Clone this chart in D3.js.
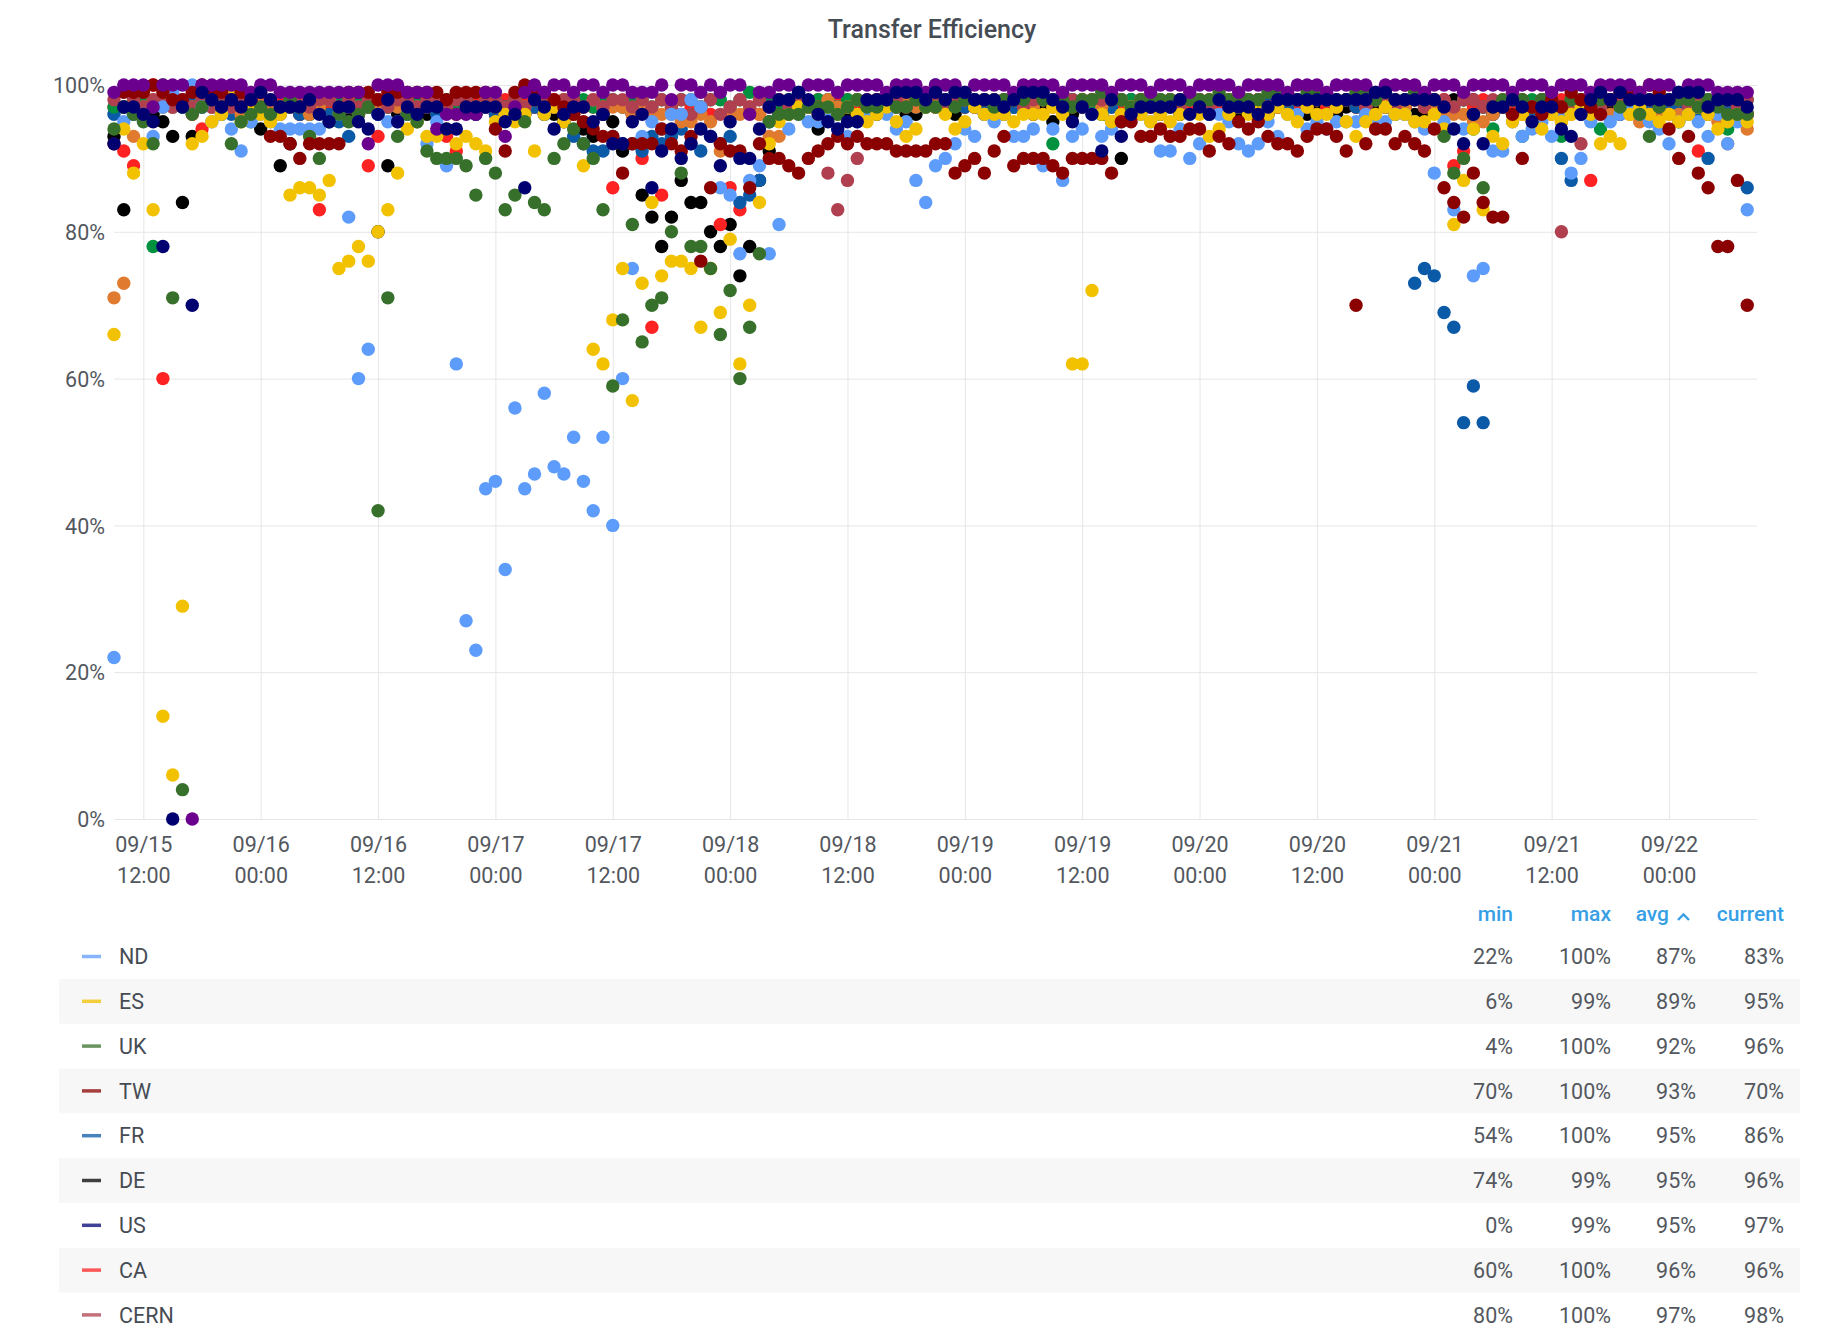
<!DOCTYPE html>
<html lang="en">
<head>
    <meta charset="UTF-8">
    <title>Transfer Efficiency</title>
    <script src="https://d3js.org/d3.v7.min.js"></script>
    <style>
        body {
            margin: 0;
            background: #fff;
            overflow: hidden;
            font-family: Roboto, "Noto Sans", sans-serif;
        }
        svg { display: block; }
    </style>
</head>
<body>

<div id="chart"></div>

<script>
    // hourly samples, first one at 09/15 09:00, 168 per series
    const startTime = new Date(2023, 8, 15, 9, 0);
    const endTime = d3.timeHour.offset(startTime, 168);

    const ND = [
        22, 95, 96, 96, 93, 97, 99, 98, 100, 97, 95, 96,
        94, 91, 95, 96, 95, 94, 94, 94, 94, 94, 95, 96,
        82, 60, 64, 96, 95, 95, 96, 95, 92, 95, 89, 62,
        27, 23, 45, 46, 34, 56, 45, 47, 58, 48, 47, 52,
        46, 42, 52, 40, 60, 75, 93, 95, 94, 96, 96, 98,
        97, 93, 86, 85, 77, 87, 89, 77, 81, 94, 96, 95,
        95, 96, 94, 93, 95, 96, 97, 96, 94, 95, 87, 84,
        89, 90, 92, 94, 93, 96, 95, 96, 93, 93, 94, 89,
        94, 87, 93, 94, 96, 93, 94, 95, 96, 96, 95, 91,
        91, 94, 90, 92, 96, 96, 95, 92, 91, 92, 95, 93,
        96, 96, 94, 95, 94, 95, 95, 95, 96, 95, 95, 96,
        96, 95, 94, 88, 95, 83, 94, 74, 75, 91, 91, 95,
        93, 94, 95, 93, 96, 88, 90, 95, 96, 95, 96, 97,
        96, 95, 94, 92, 95, 96, 95, 93, 96, 92, 95, 83
    ];
    const ES = [
        66, 94, 88, 92, 83, 14, 6, 29, 92, 93, 95, 96,
        99, 95, 97, 96, 95, 96, 85, 86, 86, 85, 87, 75,
        76, 78, 76, 80, 83, 88, 94, 95, 93, 93, 94, 92,
        93, 92, 91, 95, 96, 95, 96, 91, 96, 97, 95, 96,
        89, 64, 62, 68, 75, 57, 73, 84, 74, 76, 76, 75,
        67, 75, 69, 79, 62, 70, 84, 92, 95, 96, 97, 97,
        96, 97, 96, 97, 96, 95, 96, 97, 95, 93, 94, 97,
        97, 96, 94, 95, 97, 96, 96, 96, 95, 96, 96, 96,
        97, 96, 62, 62, 72, 96, 95, 96, 97, 96, 95, 96,
        95, 96, 94, 96, 93, 94, 96, 97, 96, 97, 96, 97,
        96, 95, 97, 96, 96, 97, 95, 93, 95, 96, 97, 96,
        96, 95, 95, 96, 94, 81, 87, 94, 83, 93, 92, 95,
        96, 95, 94, 96, 95, 96, 97, 96, 92, 93, 92, 96,
        97, 96, 95, 96, 95, 96, 97, 96, 94, 95, 96, 95
    ];
    const UK = [
        94, 97, 96, 95, 92, 100, 71, 4, 96, 97, 98, 97,
        92, 95, 96, 97, 96, 97, 98, 97, 93, 90, 95, 96,
        95, 96, 97, 42, 71, 93, 96, 95, 91, 90, 90, 90,
        89, 85, 90, 88, 83, 85, 95, 84, 83, 90, 92, 94,
        92, 90, 83, 59, 68, 81, 65, 70, 71, 80, 88, 78,
        78, 75, 66, 72, 60, 67, 77, 95, 96, 96, 96, 97,
        97, 97, 96, 97, 98, 97, 97, 98, 97, 97, 98, 97,
        97, 98, 97, 98, 98, 98, 97, 98, 98, 98, 99, 98,
        98, 98, 97, 98, 98, 99, 98, 98, 97, 98, 98, 98,
        98, 98, 98, 98, 98, 99, 98, 98, 98, 98, 99, 99,
        98, 98, 99, 99, 98, 98, 98, 99, 99, 98, 99, 98,
        98, 99, 98, 98, 93, 88, 90, 96, 86, 97, 98, 98,
        98, 97, 98, 98, 97, 98, 98, 97, 98, 98, 97, 98,
        96, 93, 97, 98, 98, 98, 97, 98, 97, 96, 96, 96
    ];
    const TW = [
        92, 99, 99, 99, 100, 99, 98, 98, 99, 100, 99, 99,
        98, 99, 98, 99, 93, 93, 92, 90, 92, 92, 92, 92,
        99, 99, 99, 98, 99, 99, 99, 99, 99, 99, 98, 99,
        99, 99, 99, 94, 91, 99, 100, 99, 99, 98, 97, 96,
        95, 94, 93, 93, 88, 92, 92, 92, 94, 92, 91, 93,
        76, 86, 92, 91, 91, 86, 92, 90, 90, 89, 88, 90,
        91, 92, 93, 92, 93, 92, 92, 92, 91, 91, 91, 91,
        92, 92, 88, 89, 90, 88, 91, 93, 89, 90, 90, 90,
        89, 88, 90, 90, 90, 90, 88, 95, 95, 93, 93, 94,
        93, 93, 94, 94, 91, 93, 92, 95, 94, 95, 93, 92,
        92, 91, 93, 94, 94, 93, 91, 70, 92, 94, 94, 92,
        93, 92, 91, 94, 86, 84, 82, 88, 84, 82, 82, 96,
        90, 97, 96, 98, 97, 99, 98, 97, 96, 98, 99, 99,
        99, 100, 99, 94, 90, 93, 88, 86, 78, 78, 87, 70
    ];
    const FR = [
        96, 97, 97, 96, 97, 98, 97, 97, 98, 97, 97, 96,
        96, 97, 96, 97, 97, 96, 97, 96, 96, 97, 96, 95,
        93, 96, 97, 96, 97, 97, 96, 97, 97, 96, 97, 97,
        97, 96, 97, 96, 97, 97, 96, 97, 96, 97, 96, 93,
        92, 91, 91, 93, 92, 92, 91, 93, 92, 93, 94, 92,
        91, 93, 92, 93, 84, 85, 87, 95, 96, 97, 97, 97,
        97, 98, 97, 97, 98, 97, 98, 97, 97, 98, 97, 98,
        100, 98, 98, 97, 98, 97, 98, 98, 97, 98, 97, 98,
        98, 97, 98, 97, 98, 98, 97, 98, 98, 97, 98, 97,
        98, 97, 98, 98, 97, 98, 97, 98, 98, 97, 98, 98,
        97, 98, 97, 98, 98, 97, 98, 97, 97, 98, 97, 97,
        96, 73, 75, 74, 69, 67, 54, 59, 54, 96, 97, 96,
        97, 96, 97, 97, 90, 87, 96, 97, 97, 98, 97, 97,
        97, 97, 96, 97, 97, 97, 96, 90, 96, 97, 96, 86
    ];
    const DE = [
        93, 83, 96, 97, 96, 95, 93, 84, 93, 97, 98, 97,
        97, 96, 97, 94, 96, 89, 92, 96, 97, 97, 97, 96,
        96, 96, 97, 80, 89, 96, 97, 97, 96, 97, 97, 97,
        97, 96, 97, 97, 96, 97, 96, 97, 96, 96, 95, 96,
        94, 93, 96, 95, 91, 96, 85, 82, 78, 82, 87, 84,
        84, 80, 78, 81, 74, 78, 87, 91, 96, 97, 97, 97,
        94, 97, 97, 96, 97, 97, 96, 97, 97, 96, 96, 97,
        97, 97, 96, 97, 97, 96, 97, 96, 97, 97, 96, 97,
        95, 97, 96, 97, 97, 96, 97, 90, 96, 97, 97, 96,
        97, 96, 97, 97, 96, 97, 97, 96, 97, 97, 96, 97,
        97, 97, 96, 97, 97, 96, 97, 97, 96, 97, 97, 96,
        97, 96, 96, 97, 96, 98, 98, 98, 97, 96, 97, 97,
        97, 96, 97, 97, 96, 97, 97, 96, 97, 97, 96, 97,
        97, 96, 97, 97, 96, 97, 97, 96, 97, 97, 96, 96
    ];
    const US = [
        92, 97, 97, 96, 95, 78, 0, 97, 70, 99, 98, 97,
        98, 97, 98, 99, 98, 97, 97, 97, 98, 96, 95, 97,
        97, 95, 94, 96, 98, 95, 97, 96, 97, 97, 94, 94,
        97, 97, 97, 97, 95, 96, 86, 98, 97, 94, 96, 97,
        97, 95, 96, 92, 92, 95, 96, 86, 91, 94, 90, 92,
        94, 93, 89, 95, 90, 90, 94, 97, 98, 98, 99, 98,
        96, 95, 94, 95, 95, 98, 98, 98, 99, 99, 99, 98,
        99, 98, 99, 99, 98, 98, 98, 97, 98, 99, 99, 99,
        98, 97, 95, 97, 96, 91, 98, 93, 96, 97, 97, 97,
        97, 98, 96, 97, 96, 98, 97, 97, 97, 96, 97, 98,
        98, 98, 98, 98, 98, 98, 98, 98, 98, 99, 99, 98,
        98, 98, 98, 98, 97, 94, 92, 96, 92, 97, 97, 98,
        97, 95, 97, 97, 94, 93, 96, 98, 99, 98, 99, 98,
        98, 98, 98, 98, 99, 99, 99, 97, 98, 98, 98, 97
    ];
    const CA = [
        97, 91, 89, 97, 100, 60, 97, 98, 96, 94, 97, 98,
        97, 98, 97, 98, 97, 98, 97, 96, 97, 83, 97, 98,
        97, 98, 89, 93, 97, 98, 97, 98, 97, 98, 93, 91,
        97, 98, 97, 96, 98, 97, 98, 97, 97, 98, 97, 98,
        97, 97, 98, 86, 97, 96, 90, 67, 85, 97, 96, 97,
        97, 96, 81, 86, 83, 97, 96, 97, 98, 97, 98, 97,
        98, 97, 98, 98, 97, 98, 97, 98, 98, 97, 98, 98,
        97, 98, 98, 97, 98, 98, 97, 98, 98, 97, 98, 98,
        98, 97, 98, 98, 97, 98, 98, 97, 98, 98, 97, 98,
        98, 98, 97, 98, 98, 97, 98, 98, 97, 98, 98, 97,
        98, 97, 98, 98, 97, 98, 98, 97, 98, 98, 97, 98,
        97, 98, 97, 98, 98, 89, 91, 97, 98, 97, 98, 97,
        98, 97, 98, 97, 98, 97, 98, 87, 97, 98, 97, 98,
        98, 97, 98, 97, 98, 97, 91, 97, 98, 97, 97, 96
    ];
    const CERN = [
        98, 97, 98, 97, 98, 98, 97, 98, 97, 98, 97, 98,
        97, 98, 98, 97, 98, 97, 98, 98, 97, 98, 98, 97,
        98, 97, 98, 98, 97, 98, 98, 97, 98, 98, 97, 98,
        98, 97, 98, 98, 97, 98, 97, 98, 98, 97, 98, 98,
        97, 98, 97, 98, 98, 97, 98, 97, 98, 97, 98, 96,
        97, 98, 96, 97, 98, 97, 98, 97, 98, 97, 98, 97,
        97, 88, 83, 87, 90, 97, 98, 97, 98, 97, 98, 98,
        98, 97, 98, 98, 97, 98, 97, 98, 98, 97, 98, 98,
        97, 98, 98, 97, 98, 98, 95, 98, 97, 98, 98, 97,
        98, 97, 98, 98, 97, 98, 98, 97, 98, 98, 97, 98,
        98, 98, 97, 98, 98, 97, 98, 98, 97, 98, 98, 97,
        100, 98, 97, 98, 98, 97, 98, 98, 97, 98, 97, 98,
        98, 97, 98, 98, 80, 97, 92, 98, 97, 98, 98, 97,
        98, 98, 97, 98, 98, 97, 98, 98, 97, 98, 97, 98
    ];
    // three more series whose legend rows are scrolled out of view
    const extraOrange = [
        71, 73, 93, 97, 98, 97, 97, 98, 97, 98, 97, 97,
        97, 96, 97, 98, 97, 96, 97, 97, 96, 97, 98, 97,
        97, 96, 97, 97, 98, 97, 96, 97, 97, 98, 97, 96,
        97, 97, 98, 97, 96, 97, 97, 98, 97, 97, 98, 97,
        97, 98, 97, 97, 97, 96, 97, 96, 96, 96, 95, 95,
        96, 95, 91, 96, 96, 97, 96, 93, 93, 96, 97, 97,
        97, 98, 97, 97, 98, 97, 98, 97, 97, 98, 97, 98,
        98, 97, 98, 98, 97, 98, 98, 97, 98, 98, 97, 98,
        98, 98, 97, 98, 98, 97, 98, 98, 97, 98, 98, 97,
        98, 97, 98, 98, 97, 98, 98, 97, 98, 98, 97, 98,
        98, 98, 97, 98, 98, 97, 98, 98, 97, 98, 98, 97,
        97, 98, 97, 97, 96, 96, 96, 95, 95, 96, 97, 96,
        96, 97, 96, 96, 95, 96, 97, 96, 97, 96, 97, 96,
        95, 96, 96, 96, 96, 96, 97, 96, 95, 92, 96, 94
    ];
    const extraPurple = [
        99, 100, 100, 100, 97, 100, 100, 100, 0, 100, 100, 100,
        100, 100, 99, 100, 100, 99, 99, 99, 99, 99, 99, 99,
        99, 99, 92, 100, 100, 100, 99, 99, 99, 94, 96, 96,
        96, 96, 99, 99, 93, 97, 99, 100, 99, 100, 100, 99,
        100, 100, 99, 100, 100, 99, 99, 99, 100, 98, 100, 100,
        99, 100, 99, 100, 100, 96, 99, 99, 100, 100, 99, 100,
        100, 100, 99, 100, 100, 100, 100, 99, 100, 100, 100, 99,
        100, 100, 100, 99, 100, 100, 100, 100, 99, 100, 100, 100,
        100, 99, 100, 100, 100, 100, 99, 100, 100, 100, 99, 100,
        100, 100, 99, 100, 100, 100, 100, 99, 100, 100, 100, 100,
        99, 100, 100, 100, 99, 100, 100, 100, 100, 99, 100, 100,
        100, 100, 99, 100, 100, 100, 99, 100, 100, 100, 100, 99,
        100, 100, 100, 99, 100, 100, 100, 99, 100, 100, 100, 100,
        99, 100, 100, 100, 99, 100, 100, 100, 99, 99, 99, 99
    ];
    const extraGreen = [
        97, 97, 98, 98, 78, 97, 98, 97, 97, 98, 98, 97,
        98, 97, 95, 98, 97, 97, 98, 97, 96, 97, 98, 98,
        97, 98, 97, 98, 97, 98, 97, 98, 98, 97, 98, 97,
        98, 97, 98, 98, 97, 98, 97, 98, 98, 97, 98, 98,
        98, 97, 98, 98, 97, 98, 98, 97, 98, 97, 98, 98,
        97, 98, 98, 97, 98, 99, 98, 98, 97, 98, 98, 97,
        98, 98, 97, 98, 98, 97, 98, 98, 97, 98, 98, 97,
        98, 97, 98, 98, 97, 98, 98, 97, 98, 98, 97, 98,
        92, 97, 98, 98, 97, 96, 98, 98, 98, 98, 98, 98,
        98, 97, 98, 98, 97, 98, 98, 97, 98, 98, 97, 98,
        98, 98, 97, 98, 98, 97, 98, 98, 97, 98, 98, 97,
        98, 98, 98, 98, 97, 97, 98, 94, 97, 94, 97, 98,
        93, 98, 98, 98, 93, 98, 98, 98, 94, 98, 98, 98,
        98, 98, 98, 98, 95, 98, 98, 98, 98, 94, 97, 98
    ];

    // legend table, as shown (sorted by avg)
    const legendNames = ["ND", "ES", "UK", "TW", "FR", "DE", "US", "CA", "CERN"];
    const legendMin = ["22%", "6%", "4%", "70%", "54%", "74%", "0%", "60%", "80%"];
    const legendMax = ["100%", "99%", "100%", "100%", "100%", "99%", "99%", "100%", "100%"];
    const legendAvg = ["87%", "89%", "92%", "93%", "95%", "95%", "95%", "96%", "97%"];
    const legendCurrent = ["83%", "95%", "96%", "70%", "86%", "96%", "97%", "96%", "98%"];

    const yTicks = [0, 20, 40, 60, 80, 100];

    const color = {
        ND: "#5e9cfc", ES: "#f2c200", UK: "#37702a", TW: "#8b0000", FR: "#0b5aa8",
        DE: "#000000", US: "#000070", CA: "#ff2222", CERN: "#b0404f",
        extraOrange: "#e07a2e", extraPurple: "#6b008f", extraGreen: "#00913f"
    };

    // draw order, bottom to top
    const series = [
        ["DE", DE], ["CA", CA], ["FR", FR], ["extraGreen", extraGreen],
        ["extraOrange", extraOrange], ["CERN", CERN], ["ND", ND], ["ES", ES],
        ["UK", UK], ["TW", TW], ["extraPurple", extraPurple], ["US", US]
    ];

    const W = 1827, H = 1331;
    const plot = {left: 114, right: 1757, top: 85, bottom: 819};
    const textColor = "#464c54";
    const axisColor = "#53575e";
    const gridColor = "#e6e6e6";
    const font = "Roboto, 'Noto Sans', sans-serif";

    const svg = d3.select("#chart").append("svg")
        .attr("width", W)
        .attr("height", H)
        .style("font-family", font);

    const x = d3.scaleTime().domain([startTime, endTime]).range([plot.left, plot.right]);
    const y = d3.scaleLinear().domain([0, 100]).range([plot.bottom, plot.top]);

    const xTicks = d3.timeHours(startTime, endTime).filter(d => d.getHours() % 12 === 0);

    // title
    svg.append("text")
        .attr("x", 932)
        .attr("y", 38)
        .attr("text-anchor", "middle")
        .attr("font-size", 25)
        .attr("font-weight", 500)
        .attr("fill", textColor)
        .text("Transfer Efficiency");

    // grid
    const gridY = svg.append("g")
        .attr("transform", `translate(${plot.left},0)`)
        .call(d3.axisLeft(y).tickValues(yTicks).tickSize(-(plot.right - plot.left)).tickFormat(""));
    const gridX = svg.append("g")
        .attr("transform", `translate(0,${plot.bottom})`)
        .call(d3.axisBottom(x).tickValues(xTicks).tickSize(-(plot.bottom - plot.top)).tickFormat(""));
    [gridY, gridX].forEach(g => {
        g.select(".domain").remove();
        g.selectAll("line").attr("stroke", gridColor).attr("stroke-width", 1);
    });

    // y labels
    const yAxis = svg.append("g")
        .attr("transform", `translate(${plot.left},0)`)
        .call(d3.axisLeft(y).tickValues(yTicks).tickSize(0).tickPadding(9).tickFormat(d => d + "%"));
    yAxis.select(".domain").remove();
    yAxis.attr("font-family", font).attr("font-size", 21.5);
    yAxis.selectAll("text").attr("fill", axisColor).attr("dy", "0.36em");

    // x labels, two lines
    const fmtDay = d3.timeFormat("%m/%d");
    const fmtTime = d3.timeFormat("%H:%M");
    const xAxis = svg.append("g")
        .attr("transform", `translate(0,${plot.bottom})`)
        .call(d3.axisBottom(x).tickValues(xTicks).tickSize(0));
    xAxis.select(".domain").remove();
    xAxis.attr("font-family", font).attr("font-size", 21.5);
    xAxis.selectAll(".tick text").each(function (d) {
        const t = d3.select(this).text(null).attr("dy", null).attr("y", null).attr("fill", axisColor);
        t.append("tspan").attr("x", 0).attr("y", 33).text(fmtDay(d));
        t.append("tspan").attr("x", 0).attr("y", 63.5).text(fmtTime(d));
    });

    // points
    const dots = svg.append("g");
    series.forEach(([name, values]) => {
        dots.append("g")
            .attr("fill", color[name])
            .selectAll("circle")
            .data(values.map((v, i) => ({t: d3.timeHour.offset(startTime, i), v})))
            .join("circle")
            .attr("cx", d => x(d.t))
            .attr("cy", d => y(d.v))
            .attr("r", 6.7);
    });

    // legend table
    const legend = svg.append("g");
    const rowY = k => 956.5 + k * 44.8;
    const cols = [
        {key: "min", right: 1513, vals: legendMin},
        {key: "max", right: 1611, vals: legendMax},
        {key: "avg", right: 1669, vals: legendAvg, valRight: 1696},
        {key: "current", right: 1784, vals: legendCurrent}
    ];

    legend.selectAll("text.head")
        .data(cols)
        .join("text")
        .attr("class", "head")
        .attr("x", d => d.right)
        .attr("y", 921)
        .attr("text-anchor", "end")
        .attr("font-size", 21)
        .attr("font-weight", 500)
        .attr("fill", "#379fe6")
        .text(d => d.key);

    // sort caret next to avg
    legend.append("path")
        .attr("d", "M1678,920 L1683.5,914.5 L1689,920")
        .attr("fill", "none")
        .attr("stroke", "#379fe6")
        .attr("stroke-width", 2.4);

    const rows = legend.selectAll("g.row")
        .data(legendNames)
        .join("g")
        .attr("class", "row")
        .attr("transform", (d, k) => `translate(0,${rowY(k)})`);

    rows.filter((d, k) => k % 2 === 1)
        .append("rect")
        .attr("x", 59)
        .attr("y", -22.4)
        .attr("width", 1741)
        .attr("height", 44.8)
        .attr("fill", "#f7f7f7");

    rows.append("line")
        .attr("x1", 82).attr("x2", 101)
        .attr("y1", 0).attr("y2", 0)
        .attr("stroke", d => color[d])
        .attr("stroke-opacity", 0.75)
        .attr("stroke-width", 3.5);

    rows.append("text")
        .attr("x", 119)
        .attr("y", 7.6)
        .attr("font-size", 21.5)
        .attr("fill", textColor)
        .text(d => d);

    cols.forEach(c => {
        rows.append("text")
            .attr("x", c.valRight || c.right)
            .attr("y", 7.6)
            .attr("text-anchor", "end")
            .attr("font-size", 21.5)
            .attr("fill", axisColor)
            .text((d, k) => c.vals[k]);
    });
</script>

</body>
</html>
